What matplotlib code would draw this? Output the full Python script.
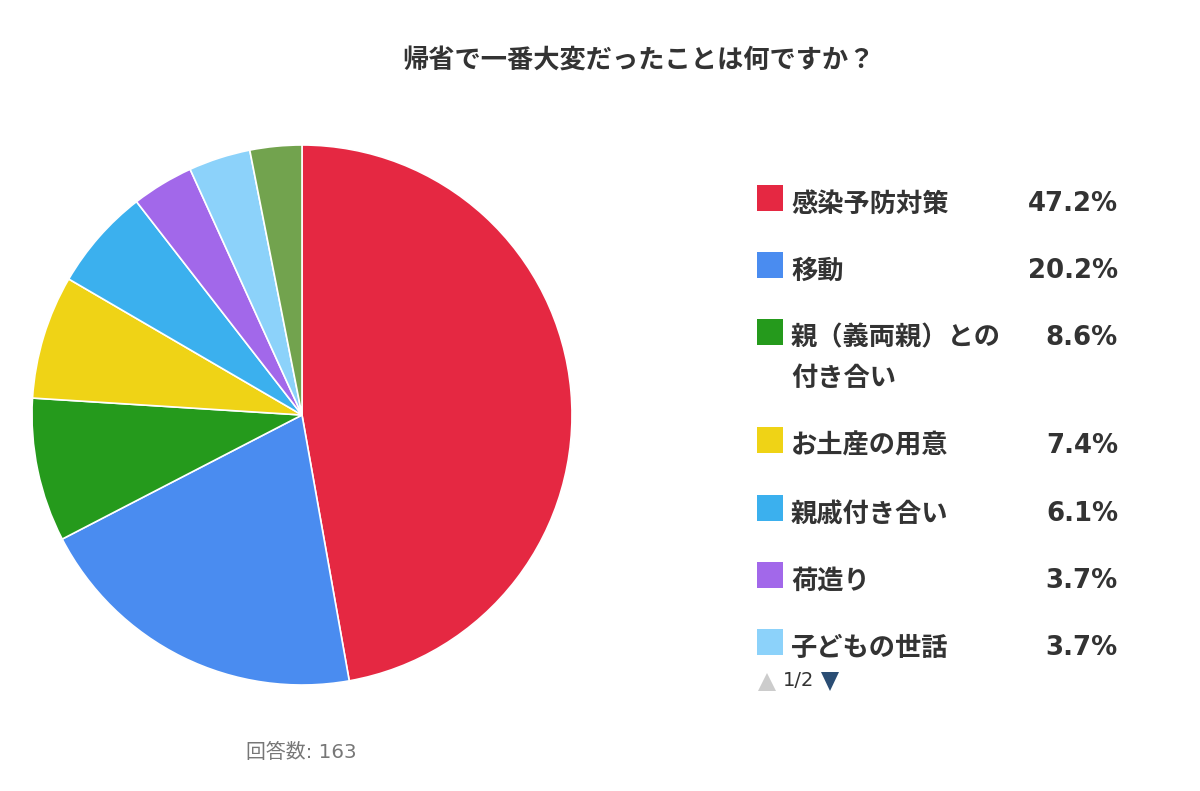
import matplotlib
matplotlib.use("Agg")
import matplotlib.pyplot as plt
from matplotlib.patches import Rectangle, Polygon

title = "帰省で一番大変だったことは何ですか？"
legend_labels = ["感染予防対策", "移動", "親（義両親）との\n付き合い", "お土産の用意", "親戚付き合い", "荷造り", "子どもの世話"]
legend_values = ["47.2%", "20.2%", "8.6%", "7.4%", "6.1%", "3.7%", "3.7%"]
values = [47.2, 20.2, 8.6, 7.4, 6.1, 3.7, 3.7, 3.1]
colors = ["#E52842", "#4A8CF0", "#259A1C", "#EFD316", "#3BB0EE", "#A268EA", "#8CD2FA", "#72A34E"]
footer = "回答数: 163"
pager = "1/2"
legend_y = [198, 265, 332, 440, 508, 575, 642]

W, H = 1200, 791
fig = plt.figure(figsize=(W / 100, H / 100), dpi=100)
ax = fig.add_axes([0, 0, 1, 1])
ax.set_xlim(0, W)
ax.set_ylim(0, H)
ax.axis("off")
Y = lambda p: H - p

ax.pie(values, colors=colors, startangle=90, counterclock=False,
       center=(302, Y(415)), radius=270, frame=False,
       wedgeprops=dict(edgecolor="white", linewidth=1.2))
ax.set_xlim(0, W)
ax.set_ylim(0, H)
ax.set_aspect("auto")

CJK = ["Noto Sans CJK JP", "DejaVu Sans"]
LATIN = ["DejaVu Sans", "Noto Sans CJK JP"]
TXT = "#333333"
ax.text(639, Y(60), title, family=CJK, weight="bold", fontsize=18.9, color=TXT, ha="center", va="center")

for label, val, col, y in zip(legend_labels, legend_values, colors, legend_y):
    ax.add_patch(Rectangle((757, Y(y + 13)), 26, 26, facecolor=col, edgecolor="none"))
    lines = label.split("\n")
    for i, line in enumerate(lines):
        ax.text(791, Y(y + 6 + i * 40), line, family=CJK, weight="bold", fontsize=18.9,
                color=TXT, ha="left", va="center")
    ax.text(1118, Y(y + 6), val, family="DejaVu Sans", weight="bold", fontsize=18.7,
            color=TXT, ha="right", va="center")

ax.add_patch(Polygon([(758, Y(691)), (776, Y(691)), (767, Y(673))], closed=True, facecolor="#CCCCCC", edgecolor="none"))
ax.add_patch(Polygon([(821, Y(672)), (839, Y(672)), (830, Y(691))], closed=True, facecolor="#2A4D74", edgecolor="none"))
ax.text(783, Y(681), pager, family="DejaVu Sans", fontsize=14, color=TXT, ha="left", va="center")
ax.text(246, Y(752), footer, family=LATIN, fontsize=14.3, color="#777777", ha="left", va="center")

fig.savefig("out.png", dpi=100, facecolor="white")
